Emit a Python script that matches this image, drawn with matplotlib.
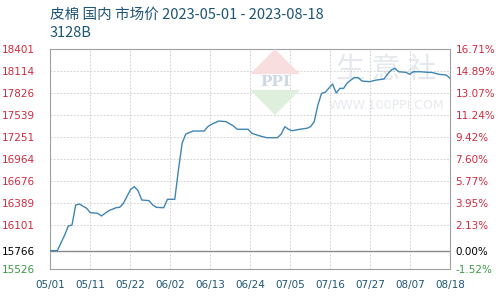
"""皮棉 国内 市场价 line chart (100ppi style)."""

import matplotlib
matplotlib.use('Agg')
import matplotlib.pyplot as plt
from matplotlib.patches import Polygon
import numpy as np
import pandas as pd

plt.rcParams['font.family'] = ['DejaVu Sans']
CJK = ['Noto Sans CJK SC', 'DejaVu Sans']

title = "皮棉 国内 市场价 2023-05-01 - 2023-08-18"
subtitle = "3128B"

dates = [
    "2023-05-01", "2023-05-03", "2023-05-05", "2023-05-06", "2023-05-07", "2023-05-08",
    "2023-05-09", "2023-05-11", "2023-05-12", "2023-05-14", "2023-05-15", "2023-05-17",
    "2023-05-19", "2023-05-20", "2023-05-21", "2023-05-23", "2023-05-24", "2023-05-25",
    "2023-05-26", "2023-05-28", "2023-05-29", "2023-05-30", "2023-06-01", "2023-06-02",
    "2023-06-04", "2023-06-05", "2023-06-06", "2023-06-07", "2023-06-09", "2023-06-12",
    "2023-06-13", "2023-06-14", "2023-06-16", "2023-06-18", "2023-06-20", "2023-06-21",
    "2023-06-24", "2023-06-25", "2023-06-27", "2023-06-29", "2023-07-02", "2023-07-03",
    "2023-07-04", "2023-07-05", "2023-07-06", "2023-07-08", "2023-07-10", "2023-07-11",
    "2023-07-12", "2023-07-13", "2023-07-14", "2023-07-15", "2023-07-17", "2023-07-18",
    "2023-07-19", "2023-07-20", "2023-07-21", "2023-07-22", "2023-07-23", "2023-07-24",
    "2023-07-25", "2023-07-27", "2023-07-29", "2023-07-31", "2023-08-01", "2023-08-02",
    "2023-08-03", "2023-08-04", "2023-08-06", "2023-08-07", "2023-08-08", "2023-08-10",
    "2023-08-12", "2023-08-13", "2023-08-15", "2023-08-17", "2023-08-18",
]
prices = [
    15766, 15766, 15970, 16088, 16101, 16362,
    16375, 16319, 16262, 16254, 16219, 16288,
    16327, 16332, 16385, 16568, 16602, 16549,
    16428, 16419, 16362, 16332, 16327, 16437,
    16437, 16820, 17169, 17290, 17329, 17329,
    17386, 17417, 17460, 17451, 17395, 17352,
    17352, 17299, 17268, 17242, 17242, 17290,
    17386, 17352, 17333, 17352, 17365, 17386,
    17451, 17669, 17822, 17835, 17944, 17826,
    17887, 17887, 17957, 17996, 18029, 18026,
    17983, 17974, 17996, 18009, 18074, 18127,
    18149, 18104, 18096, 18070, 18104, 18104,
    18096, 18096, 18070, 18061, 18018,
]

base = 15766
y_ticks = [15526, 15766, 16101, 16389, 16676, 16964, 17251, 17539, 17826, 18114, 18401]
pct_labels = ["-1.52%", "0.00%", "2.13%", "3.95%", "5.77%", "7.60%",
              "9.42%", "11.24%", "13.07%", "14.89%", "16.71%"]
x_labels = ["05/01", "05/11", "05/22", "06/02", "06/13", "06/24",
            "07/05", "07/16", "07/27", "08/07", "08/18"]

dt = pd.to_datetime(dates)
days = (dt - dt[0]).days.values
n_days = days[-1]

fig = plt.figure(figsize=(5, 3), dpi=100, facecolor="white")
ax = fig.add_axes([0.1, 0.1033, 0.8, 0.7333])

# watermark
logo = ax.inset_axes([0.5, 0.70, 0.125, 0.30])
logo.set_xlim(0, 1)
logo.set_ylim(0, 1)
logo.axis("off")
logo.add_patch(Polygon([[0.5, 1], [1, 0.62], [0, 0.62]], color="#f8dede", lw=0))
logo.add_patch(Polygon([[0, 0.38], [1, 0.38], [0.5, 0]], color="#deefde", lw=0))
logo.text(0.5, 0.5, "PPI", ha="center", va="center", fontsize=11, color="#cfd7e6",
          fontweight="bold", family="DejaVu Serif")
ax.text(0.84, 0.905, "生 意 社", transform=ax.transAxes, ha="center", va="center",
        fontsize=21, color="#e5e9ef", family=CJK, zorder=0)
ax.text(0.84, 0.745, "WWW.100PPI.COM", transform=ax.transAxes, ha="center", va="center",
        fontsize=9, color="#e6eaef", zorder=0)

ax.plot(days, prices, color="#3f86b4", lw=1.0, zorder=3)

ax.set_xlim(0, n_days)
ax.set_ylim(y_ticks[0], y_ticks[-1])
xt = np.linspace(0, n_days, len(x_labels))
ax.set_xticks(xt)
ax.set_xticklabels(x_labels, fontsize=7.5, color="#1e5574")
ax.set_yticks(y_ticks)
ax.set_yticklabels([str(v) for v in y_ticks], fontsize=7.5)
ax.tick_params(axis="both", length=0)
ax.tick_params(axis="y", pad=11)
ax.tick_params(axis="x", pad=8)

def tick_color(v):
    if v > base:
        return "#d02a3e"
    if v < base:
        return "#3b9a45"
    return "black"

for lbl, v in zip(ax.get_yticklabels(), y_ticks):
    lbl.set_color(tick_color(v))

ax.grid(True, color="#c9c9c9", lw=0.6, ls=(0, (2, 2)))
ax.axhline(base, color="#8a8a8a", lw=1.0, zorder=2)
for s in ax.spines.values():
    s.set_color("#a0a0a0")
    s.set_linewidth(0.8)

ax2 = ax.twinx()
ax2.set_ylim(ax.get_ylim())
ax2.set_yticks(y_ticks)
ax2.set_yticklabels(pct_labels, fontsize=7.5)
ax2.tick_params(axis="y", length=0, pad=4)
for lbl, v in zip(ax2.get_yticklabels(), y_ticks):
    lbl.set_color(tick_color(v))
for s in ax2.spines.values():
    s.set_visible(False)

fig.text(0.1, 0.952, title, fontsize=10.5, color="#1e5574", family=CJK, va="center")
fig.text(0.1, 0.89, subtitle, fontsize=10.5, color="#1e5574", family=CJK, va="center")

plt.savefig("out.png", dpi=100, facecolor="white")
